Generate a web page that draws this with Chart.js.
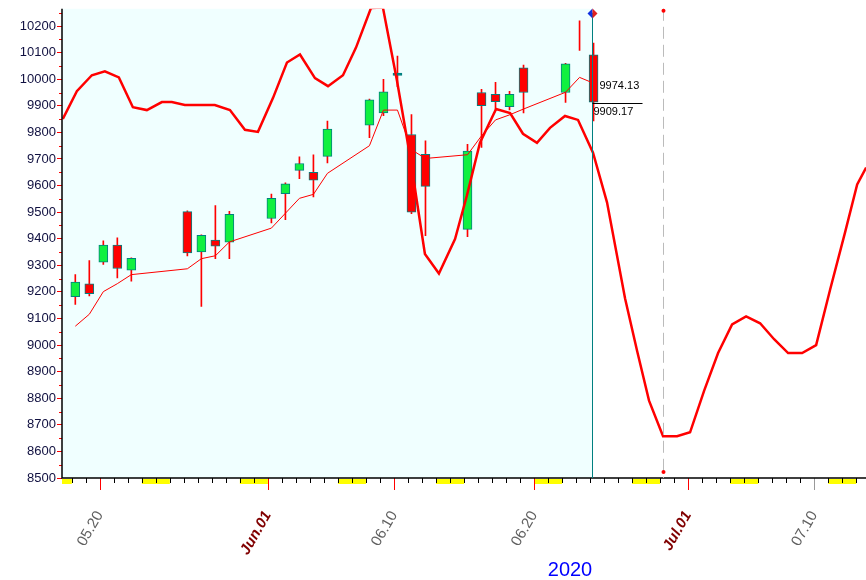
<!DOCTYPE html>
<html><head><meta charset="utf-8">
<script src="https://cdn.jsdelivr.net/npm/chart.js@4"></script>
<style>html,body{margin:0;padding:0;background:#fff}#w{width:866px;height:580px}</style>
</head><body><div id="w"><canvas id="c"></canvas></div>
<script>
// day numbers: May d = d, June d = 31+d, July d = 61+d
const candleDays=[18,19,20,21,22,26,27,28,29,32,33,34,35,36,39,40,41,42,43,46,47,48,49,50,53,54,55];
const opens =[9182,9230,9312,9376,9282,9502,9350,9395,9387,9476,9570,9657,9650,9710,9827,9873,10020,9792,9718,9435,9950,9943,9897,10043,9950,null,10092];
const closes=[9237,9193,9376,9288,9326,9347,9413,9372,9492,9552,9607,9683,9620,9813,9923,9953,10014,9500,9597,9730,9901,9916,9943,9950,10058,null,9914];
const highs =[9265,9318,9392,9403,9328,9505,9415,9525,9503,9568,9610,9708,9716,9843,9925,10000,10087,9867,9768,9755,9962,9988,9955,10053,10060,10220,10136];
const lows  =[9153,9185,9303,9253,9240,9335,9145,9325,9325,9460,9472,9626,9557,9685,9780,9863,9972,9494,9412,9408,9744,9887,9885,9873,9913,10108,9843];
const maValues=[9071,9116,9201,9231,9265,9287,9325,9336,9388,9440,9496,9552,9567,9646,9750,9884,9884,9735,9702,9716,9787,9847,9866,9888,9951,10007,9985];
const cycleDays=[17.36,18.36,19.43,20.36,21.36,22.36,23.36,24.43,25.14,26.07,27.14,28.21,29.29,30.36,31.29,32.36,33.36,34.29,35.36,36.29,37.36,38.29,39.36,40.21,41.21,42.14,43.21,44.21,45.36,46.21,47.14,48.29,49.29,50.21,51.21,52.14,53.21,54.14,55.21,56.21,57.5,58.36,59.21,60.21,61.21,62.14,63.14,64.14,65.14,66.14,67.14,68.14,69.14,70.14,71.14,72.14,73.21,74.07,74.71];
const cycleValues=[9851,9955,10015,10030,10007,9895,9884,9914,9914,9903,9903,9903,9884,9810,9802,9929,10063,10093,10004,9974,10015,10119,10268,10270,9996,9713,9343,9269,9399,9563,9761,9888,9873,9795,9761,9817,9862,9847,9724,9537,9175,8978,8791,8657,8657,8672,8828,8970,9078,9108,9082,9022,8970,8970,9000,9209,9425,9604,9668];
const tickLabels={20:'05.20',32:'Jun.01',41:'06.10',51:'06.20',62:'Jul.01',71:'07.10'};
const weekendStarts=[16,23,30,37,44,51,58,65,72];
const lastDay=55.14, markDay=60.2;

const off=0.25;
const cx=candleDays.map(d=>d+off);
const wickData=cx.map((x,i)=>({x,y:[lows[i],highs[i]]}));
const bodyData=cx.map((x,i)=>opens[i]==null?{x,y:null}:({x,y:[Math.min(opens[i],closes[i]),Math.max(opens[i],closes[i])+(Math.abs(opens[i]-closes[i])<8?3:0)]}));
const bodyColors=cx.map((x,i)=>opens[i]==null?'transparent':(Math.abs(opens[i]-closes[i])<8?'#008080':(closes[i]>=opens[i]?'#10f040':'#ff0000')));
const maData=cx.map((x,i)=>({x,y:maValues[i]}));
const cycData=cycleDays.map((x,i)=>({x,y:cycleValues[i]}));

const deco={id:'deco',
 beforeDraw(ch){const {ctx,chartArea:a,scales:{x}}=ch;ctx.save();
  ctx.fillStyle='#f0ffff';ctx.fillRect(a.left,a.top,x.getPixelForValue(lastDay)-a.left,a.bottom-a.top);ctx.restore();},
 afterDraw(ch){const {ctx,chartArea:a,scales:{x,y}}=ch;ctx.save();
  ctx.fillStyle='#ffff00';
  weekendStarts.forEach(d=>{let l=Math.max(x.getPixelForValue(d),a.left),r=Math.min(x.getPixelForValue(d+2),a.right);if(r>l)ctx.fillRect(l,a.bottom+1,r-l,5);});
  for(let d=17;d<=75;d++){const px=x.getPixelForValue(d);if(px<a.left||px>a.right)continue;
    ctx.strokeStyle='#000';ctx.lineWidth=1;
    if(tickLabels[d]){ctx.strokeStyle=d==71?'#999':'#ff0000';ctx.beginPath();ctx.moveTo(Math.round(px)+.5,a.bottom);ctx.lineTo(Math.round(px)+.5,a.bottom+12);ctx.stroke();}
    else{ctx.beginPath();ctx.moveTo(Math.round(px)+.5,a.bottom);ctx.lineTo(Math.round(px)+.5,a.bottom+5);ctx.stroke();}}
  ctx.strokeStyle='#ff0000';
  for(let v=8550;v<=10250;v+=100){const py=Math.round(y.getPixelForValue(v))+.5;ctx.beginPath();ctx.moveTo(a.left-3,py);ctx.lineTo(a.left,py);ctx.stroke();}
  ctx.strokeStyle='#000';ctx.lineWidth=1.5;ctx.beginPath();ctx.moveTo(a.left,a.top);ctx.lineTo(a.left,a.bottom);ctx.lineTo(a.right,a.bottom);ctx.stroke();
  const lx=Math.round(x.getPixelForValue(lastDay))+.5;
  ctx.strokeStyle='#008080';ctx.lineWidth=1;ctx.beginPath();ctx.moveTo(lx,a.top+4);ctx.lineTo(lx,a.bottom);ctx.stroke();
  const mx=Math.round(x.getPixelForValue(markDay))+.5;
  ctx.strokeStyle='#bbb';ctx.setLineDash([12,6]);ctx.beginPath();ctx.moveTo(mx,a.top);ctx.lineTo(mx,a.bottom);ctx.stroke();ctx.setLineDash([]);
  ctx.fillStyle='#ff0000';[a.top+2,a.bottom-6].forEach(py=>{ctx.beginPath();ctx.arc(mx,py,2,0,7);ctx.fill();});
  const dy=y.getPixelForValue(10247);
  ctx.fillStyle='#1030e0';ctx.beginPath();ctx.moveTo(lx,dy-5);ctx.lineTo(lx-5,dy);ctx.lineTo(lx,dy+5);ctx.fill();
  ctx.fillStyle='#e02020';ctx.beginPath();ctx.moveTo(lx,dy-5);ctx.lineTo(lx+5,dy);ctx.lineTo(lx,dy+5);ctx.fill();
  ctx.fillStyle='#000';ctx.font='11px Arial, "Liberation Sans"';ctx.textBaseline='middle';
  ctx.fillText('9974.13',lx+7,y.getPixelForValue(9974));
  const ly=Math.round(y.getPixelForValue(9909))+.5;
  ctx.strokeStyle='#000';ctx.beginPath();ctx.moveTo(lx,ly);ctx.lineTo(lx+50,ly);ctx.stroke();
  ctx.fillText('9909.17',lx+1,ly+8);
  ctx.fillStyle='#0000ff';ctx.font='20px Arial, "Liberation Sans"';ctx.textAlign='center';ctx.textBaseline='alphabetic';
  ctx.fillText('2020',570,576);
  ctx.restore();}};

new Chart(document.getElementById('c'),{
 type:'bar',
 data:{datasets:[
  {type:'line',data:cycData,borderColor:'#ff0000',borderWidth:2.5,pointRadius:0,order:0,tension:0},
  {type:'line',data:maData,borderColor:'#ff0000',borderWidth:1,pointRadius:0,order:1,tension:0},
  {data:bodyData,backgroundColor:bodyColors,borderColor:'#008080',borderWidth:1,borderSkipped:false,barThickness:9,grouped:false,order:2},
  {data:wickData,backgroundColor:'#ff0000',borderWidth:0,barThickness:1,grouped:false,order:3}
 ]},
 options:{responsive:true,maintainAspectRatio:false,animation:false,
  layout:{padding:{top:5,right:0,left:0,bottom:0}},
  plugins:{legend:{display:false},tooltip:{enabled:false}},
  scales:{
   x:{type:'linear',min:17.3,max:74.7,offset:false,
     grid:{display:false,drawTicks:false},border:{display:false},
     afterFit(s){s.height=102;},
     afterBuildTicks(s){s.ticks=Object.keys(tickLabels).map(k=>({value:+k}));},
     ticks:{autoSkip:false,minRotation:60,maxRotation:60,padding:30,
       callback:v=>tickLabels[v]||'',
       color:c=>(c.tick&&(c.tick.value==32||c.tick.value==62))?'#800000':'#606060',
       font:c=>(c.tick&&(c.tick.value==32||c.tick.value==62))?{family:'Arial, "Liberation Sans"',size:15,weight:'bold',style:'italic'}:{family:'Arial, "Liberation Sans"',size:15}}},
   y:{min:8500,max:10265,
     afterFit(s){s.width=62;},
     afterBuildTicks(s){const t=[];for(let v=8500;v<=10200;v+=100)t.push({value:v});s.ticks=t;},
     grid:{drawOnChartArea:false,color:'#ff0000',tickLength:5},border:{display:false},
     ticks:{color:'#101040',padding:1,callback:v=>String(v),font:{family:'Arial, "Liberation Sans"',size:13}}}
  }},
 plugins:[deco]});
</script></body></html>
